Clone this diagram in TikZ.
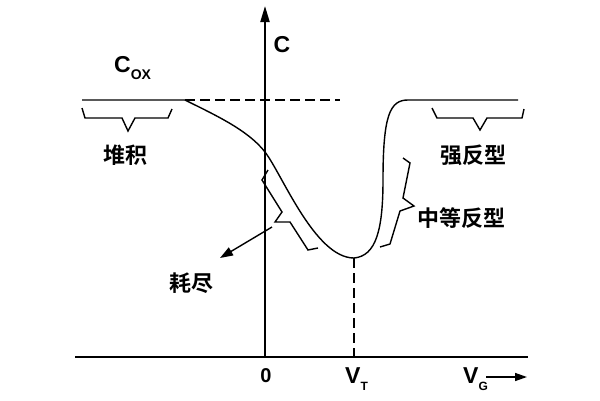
\documentclass[tikz,border=0pt]{standalone}
\usepackage{fontspec}
\setmainfont{Liberation Sans}
\newfontfamily\cjk{Noto Sans CJK SC Bold}
\usetikzlibrary{arrows.meta}

\begin{document}
\begin{tikzpicture}[x=1pt,y=-1pt]
	\tikzstyle{axis}=[line width=2pt]
	\tikzstyle{curve}=[line width=1.4pt]
	\tikzstyle{brace}=[line width=1.4pt, line join=miter]
	\tikzstyle{guide}=[line width=1.4pt, dash pattern=on 10pt off 5pt]
	\tikzstyle{sym}=[font=\fontsize{23}{26}\selectfont\bfseries, inner sep=0pt]
	\tikzstyle{region}=[font=\fontsize{22}{26}\selectfont\cjk, inner sep=0pt]
	\tikzstyle{pointer}=[line width=1.4pt, -{Triangle[length=13pt,width=9pt]}]
	\newcommand{\subtxt}[2]{{\fontsize{#1}{12}\selectfont\raisebox{-7pt}{#2}}}

	\useasboundingbox (0,0) rectangle (600,400);

	% axes
	\coordinate (o) at (265,357);
	\coordinate (ytop) at (265,6);
	\coordinate (xl) at (75,357);
	\coordinate (xr) at (528,357);
	\draw[axis, -{Triangle[length=16pt,width=9pt]}] (o) -- (ytop);
	\draw[axis] (xl) -- (xr);

	% C-V curve
	\coordinate (cox) at (185,100);
	\coordinate (cut) at (265,152);
	\coordinate (vmin) at (354,258);
	\coordinate (rise) at (383,180);
	\coordinate (inv) at (408,100);
	\draw[curve] (82,100) -- (cox)
		.. controls (215,115) and (248,130) .. (cut)
		.. controls (282,174) and (315,258) .. (vmin)
		.. controls (376,256) and (383,230) .. (rise)
		.. controls (383,115) and (390,100) .. (inv) -- (518,100);
	\draw[guide] (cox) -- (340,100);
	\draw[guide] (vmin) -- (vmin |- o);

	% braces
	\draw[brace] (82,108) -- (85,118) -- (122,118) -- (128,131) -- (135,118) -- (168,118) -- (172,109);
	\draw[brace] (432,108) -- (437,118) -- (473,118) -- (480,130) -- (487,118) -- (522,118) -- (524,109);
	\draw[brace] (403,158) -- (410,163) -- (403,198) -- (414,206) -- (400,211) -- (390,244) -- (380,247);
	\draw[brace] (268,170) -- (262,180) -- (282,212) -- (275,222) -- (290,222) -- (308,250) -- (318,248);

	% labels
	\node (c) [sym] at (282,45) {C};
	\node (cap) [sym, anchor=base west] at (114,72) {C\subtxt{14}{OX}};
	\node (acc) [region] at (125,155) {堆积};
	\node (strong) [region] at (473,155) {强反型};
	\node (mid) [region] at (461,218) {中等反型};
	\node (dep) [region] at (191,283) {耗尽};
	\node (zero) [sym, font=\fontsize{20}{22}\selectfont\bfseries, anchor=base] at (266,382) {0};
	\node (vt) [sym, anchor=base west] at (345,383) {V\subtxt{12}{T}};
	\node (vg) [sym, anchor=base west] at (463,383) {V\subtxt{12}{G}};

	\coordinate (deptip) at (272,227);
	\coordinate (depend) at (220,258);
	\draw[pointer] (deptip) -- (depend);
	\coordinate (vgend) at (527,377);
	\draw[pointer, -{Triangle[length=12pt,width=8pt]}] (vg.east |- vgend) ++(-2,0) coordinate (vgstart) -- (vgend);
\end{tikzpicture}
\end{document}
